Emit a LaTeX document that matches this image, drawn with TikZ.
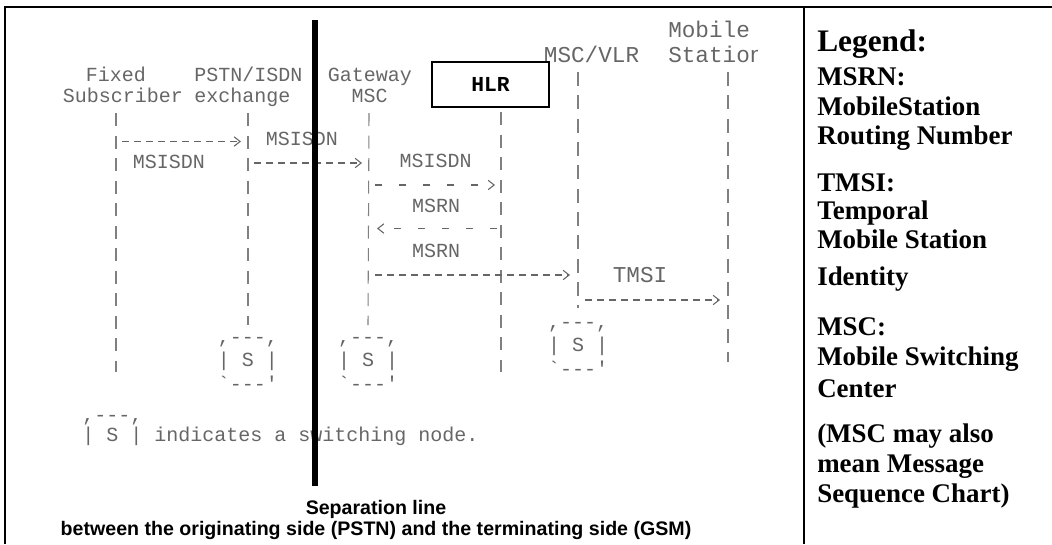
\documentclass[tikz,border=0pt]{standalone}
\usepackage{fontspec}
\setmainfont{Liberation Serif}
\setsansfont{Liberation Sans}
\setmonofont{Liberation Mono}
\usetikzlibrary{arrows.meta}
\begin{document}
\begin{tikzpicture}[x=0.75pt,y=-0.75pt,
  ascii/.style={font=\ttfamily\fontsize{15pt}{17pt}\selectfont, text=black!60, inner sep=0pt, anchor=base},
  asciiR/.style={ascii, font=\ttfamily\fontsize{17pt}{19pt}\selectfont},
  sbox/.style={ascii, align=center, font=\ttfamily\fontsize{15pt}{17.6pt}\selectfont, anchor=north},
  life/.style={draw=black!50, line width=0.8pt, dash pattern=on 9.75pt off 7.125pt},
  lifeR/.style={life, dash pattern=on 10.5pt off 7pt},
  msg/.style={draw=black!60, line width=0.8pt, dash pattern=on 5.25pt off 3.75pt,
    -{Straight Barb[length=4.5pt,width=7pt]}},
  msgsparse/.style={msg, dash pattern=on 5.25pt off 12.75pt},
  frame/.style={line width=1.5pt},
  legend/.style={font=\bfseries\fontsize{20.2pt}{24pt}\selectfont, inner sep=0pt, anchor=base west},
  caption/.style={font=\sffamily\bfseries\fontsize{14.7pt}{17pt}\selectfont, inner sep=0pt, anchor=base}
]
\useasboundingbox (0,0) rectangle (1052,544);

% frame
\draw[frame] (5,544) -- (5,7) -- (1052,7);
\draw[frame] (804,7) -- (804,544);

% headers
\node[ascii] (fsA) at (116,81) {Fixed};
\node[ascii] (fsB) at (123,102) {Subscriber};
\node[ascii] (pxA) at (248.5,81) {PSTN/ISDN};
\node[ascii] (pxB) at (242.5,102) {exchange};
\node[ascii] (gwA) at (370,81) {Gateway};
\node[ascii] (gwB) at (369.5,102) {MSC};
\node[asciiR] (vlrA) at (591.5,62) {MSC/VLR};
\node[asciiR, anchor=base west] (msA) at (668,37) {Mobile};
\begin{scope}
  \clip (600,40) rectangle (757,72);
  \node[asciiR, anchor=base west] (msB) at (668,62) {Station};
\end{scope}

% switching nodes
\node[sbox] (spx) at (248,337) {,---,\\| S |\\`---'};
\node[sbox] (sgw) at (368,337) {,---,\\| S |\\`---'};
\node[sbox] (svlr) at (578,322) {,---,\\| S |\\`---'};

% lifelines
\coordinate (fsT) at (116,113);  \coordinate (fsE) at (116,372);
\coordinate (pxT) at (248,113);
\coordinate (gwT) at (369,113);
\coordinate (hlrT) at (501,112); \coordinate (hlrE) at (501,372);
\coordinate (vlrT) at (578,72);
\coordinate (msT) at (728,72);   \coordinate (msE) at (728,362);

\draw[life] (fsT) -- (fsE);
\draw[life] (pxT) -- ([yshift=9pt]spx.north);
\draw[life] (gwT) -- ([yshift=9pt]sgw.north);
\draw[life] (hlrT) -- (hlrE);
\draw[lifeR] (vlrT) -- ([yshift=10.5pt]svlr.north);
\draw[lifeR] (msT) -- (msE);

% HLR box
\node[draw, line width=0.8pt, fill=white, minimum width=87.75pt, minimum height=33.75pt,
      font=\ttfamily\bfseries\fontsize{16pt}{18pt}\selectfont] (hlr) at (490.5,84.5) {HLR};

% message end points
\coordinate (fs1) at (116,141.5);  \coordinate (px1) at (248,141.5);
\coordinate (px2) at (248,163);    \coordinate (gw2) at (369,163);
\coordinate (gw3) at (369,185);    \coordinate (hlr3) at (501,185);
\coordinate (hlr4) at (501,228.5); \coordinate (gw4) at (369,228.5);
\coordinate (gw5) at (369,275);    \coordinate (vlr5) at (578,275);
\coordinate (vlr6) at (578,300);   \coordinate (ms6) at (728,300);

\draw[msg, shorten <=4.5pt, shorten >=5.25pt] (fs1) -- (px1);
\draw[msg, shorten <=4.5pt, shorten >=5.25pt] (px2) -- (gw2);
\draw[msgsparse, shorten <=4.5pt, shorten >=4.5pt] (gw3) -- (hlr3);
\draw[msgsparse, shorten <=3pt, shorten >=6pt] (hlr4) -- (gw4);
\draw[msg, shorten <=4.5pt, shorten >=6pt] (gw5) -- (vlr5);
\draw[msg, shorten <=5.25pt, shorten >=6pt] (vlr6) -- (ms6);

% message labels
\node[ascii] (l1) at (169,168) {MSISDN};
\node[ascii] (l2) at (302,145) {MSISDN};
\node[ascii] (l3) at (435.5,167) {MSISDN};
\node[ascii] (l4) at (436,212) {MSRN};
\node[ascii] (l5) at (436,257) {MSRN};
\node[asciiR] (l6) at (640,282) {TMSI};

% ascii legend
\node[ascii, anchor=base west] (sl1) at (82,421) {,---,};
\node[ascii, anchor=base west] (sl2) at (82,441) {| S | indicates a switching node.};

% separation line
\coordinate (sepT) at (315,20);
\coordinate (sepB) at (315,486);
\draw[line width=4.5pt] (sepT) -- (sepB);
\node[caption] (cap1) at (376,514) {Separation line};
\node[caption] (cap2) at (376,535) {between the originating side (PSTN) and the terminating side (GSM)};

% legend
\node[legend, font=\bfseries\fontsize{23.5pt}{26pt}\selectfont] (lg0) at (817,51) {Legend:};
\node[legend] (lg1) at (817,85) {MSRN:};
\node[legend] (lg2) at (817,115) {MobileStation};
\node[legend] (lg3) at (817,144) {Routing Number};
\node[legend] (lg4) at (817,191) {TMSI:};
\node[legend] (lg5) at (817,219) {Temporal};
\node[legend] (lg6) at (817,248) {Mobile Station};
\node[legend] (lg7) at (817,285) {Identity};
\node[legend] (lg8) at (817,335) {MSC:};
\node[legend] (lg9) at (817,365) {Mobile Switching};
\node[legend] (lg10) at (817,397) {Center};
\node[legend] (lg11) at (817,442) {(MSC may also};
\node[legend] (lg12) at (817,472) {mean Message};
\node[legend] (lg13) at (817,502) {Sequence Chart)};
\end{tikzpicture}
\end{document}
